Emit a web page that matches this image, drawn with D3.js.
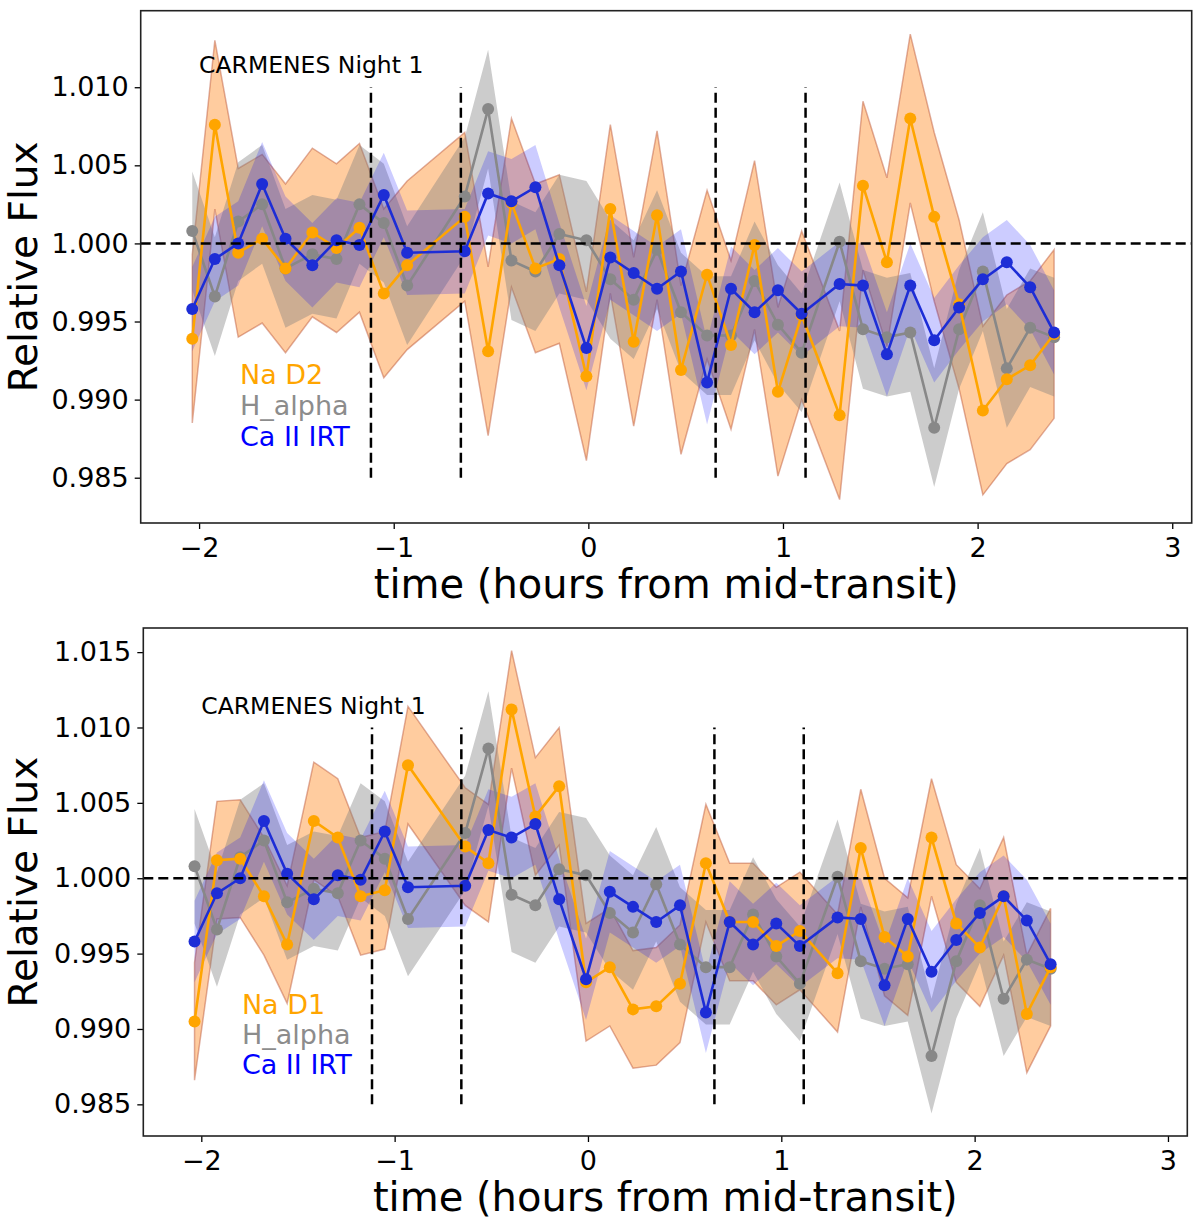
<!DOCTYPE html>
<html>
<head>
<meta charset="utf-8">
<style>
  body{
    margin:0;
    background:#fff;
    font-family:"DejaVu Sans", sans-serif;
  }
  .tick text{
    font-size:27px;
    font-family:"DejaVu Sans", sans-serif;
    fill:#000;
  }
  .tick line{
    stroke:#000;
    stroke-width:1.3;
  }
  .axis-title{
    font-size:40px;
    fill:#000;
  }
</style>
<script src="https://d3js.org/d3.v7.min.js"></script>
</head>
<body>
<div class="chart"></div>
<script>
// hours from mid-transit of every exposure
const times = [-2.035, -1.919, -1.799, -1.676, -1.556, -1.418, -1.294, -1.176, -1.051, -0.931,
  -0.635, -0.515, -0.395, -0.272, -0.149, -0.010, 0.113, 0.233, 0.353, 0.476,
  0.610, 0.733, 0.854, 0.974, 1.096, 1.291, 1.411, 1.534, 1.654, 1.777,
  1.905, 2.027, 2.150, 2.270, 2.393];

const naD2 = [0.9939, 1.0076, 0.9994, 1.0003, 0.9984, 1.0007, 0.9997, 1.0010, 0.9968, 0.9986,
  1.0017, 0.9931, 1.0026, 0.9984, 0.9990, 0.9915, 1.0022, 0.9937, 1.0018, 0.9919,
  0.9980, 0.9935, 0.9999, 0.9905, 0.9954, 0.9890, 1.0037, 0.9988, 1.0080, 1.0017,
  0.9961, 0.9893, 0.9913, 0.9922, 0.9942];

const naD1 = [0.9905, 1.0012, 1.0013, 0.9988, 0.9956, 1.0038, 1.0027, 0.9988, 0.9992, 1.0075,
  1.0021, 1.0010, 1.0112, 1.0041, 1.0061, 0.9931, 0.9941, 0.9913, 0.9915, 0.9930,
  1.0010, 0.9971, 0.9971, 0.9955, 0.9965, 0.9937, 1.0020, 0.9961, 0.9948, 1.0027,
  0.9970, 0.9954, 0.9988, 0.9910, 0.9941];

const hAlpha = [1.0008, 0.9966, 1.0014, 1.0025, 0.9984, 0.9993, 0.9990, 1.0025, 1.0013, 0.9973,
  1.0030, 1.0086, 0.9989, 0.9982, 1.0006, 1.0002, 0.9977, 0.9964, 0.9996, 0.9956,
  0.9941, 0.9941, 0.9976, 0.9948, 0.9930, 1.0001, 0.9945, 0.9940, 0.9943, 0.9882,
  0.9945, 0.9982, 0.9920, 0.9946, 0.9940];

const caIRT = [0.9958, 0.9990, 1.0000, 1.0038, 1.0003, 0.9986, 1.0002, 0.9999, 1.0031, 0.9994,
  0.9995, 1.0032, 1.0027, 1.0036, 0.9986, 0.9933, 0.9991, 0.9981, 0.9971, 0.9982,
  0.9911, 0.9971, 0.9956, 0.9970, 0.9955, 0.9974, 0.9973, 0.9929, 0.9973, 0.9938,
  0.9959, 0.9977, 0.9988, 0.9972, 0.9943];

// half widths of the shaded bands
const naD2Err = 0.0054;
const naD1Err = 0.0039;
const hAlphaErr = 0.0038;
const caIRTErr = 0.0027;

// transit contact points (dashed verticals)
const contactTimes = [-1.117, -0.655, 0.654, 1.116];

const xTicks = [-2, -1, 0, 1, 2, 3];
const yTicksTop = [0.985, 0.990, 0.995, 1.000, 1.005, 1.010];
const yTicksBottom = [0.985, 0.990, 0.995, 1.000, 1.005, 1.010, 1.015];
const xDomain = [-2.30, 3.10];
const yDomainTop = [0.9821, 1.0149];
const yDomainBottom = [0.9829, 1.0166];

const width = 1200;
const height = 1230;
const font = '"DejaVu Sans", sans-serif';

const svg = d3.select('.chart')
  .append('svg')
  .attr('width', width)
  .attr('height', height)
  .style('font-family', font);

const panels = [
  {box:{left:140.7, top:10.7, right:1191.7, bottom:523}, na:naD2, naErr:naD2Err, naLabel:'Na D2',
    yDomain:yDomainTop, yTicks:yTicksTop},
  {box:{left:143.3, top:628, right:1187.3, bottom:1136}, na:naD1, naErr:naD1Err, naLabel:'Na D1',
    yDomain:yDomainBottom, yTicks:yTicksBottom}
];

const minus = d => d < 0 ? '\u2212' + Math.abs(d) : String(d);

panels.forEach((p, i) => {
  const b = p.box;
  const x = d3.scaleLinear().domain(xDomain).range([b.left, b.right]);
  const y = d3.scaleLinear().domain(p.yDomain).range([b.bottom, b.top]);

  const g = svg.append('g');

  g.append('clipPath')
    .attr('id', 'clip' + i)
    .append('rect')
    .attr('x', b.left).attr('y', b.top)
    .attr('width', b.right - b.left).attr('height', b.bottom - b.top);

  const plot = g.append('g').attr('clip-path', `url(#clip${i})`);

  const series = [
    {values:p.na, err:p.naErr, line:'#ffa500', fill:'rgba(255,127,14,0.4)', edge:'rgba(185,80,50,0.45)', label:p.naLabel, text:'#ffa500'},
    {values:hAlpha, err:hAlphaErr, line:'#888888', fill:'rgba(128,128,128,0.4)', edge:'none', label:'H_alpha', text:'#8c8c8c'},
    {values:caIRT, err:caIRTErr, line:'#1d2dd6', fill:'rgba(0,0,255,0.2)', edge:'none', label:'Ca II IRT', text:'#0000ff'}
  ];

  const area = d3.area()
    .x((d, j) => x(times[j]))
    .y0(d => y(d.v - d.e))
    .y1(d => y(d.v + d.e));

  const line = d3.line()
    .x((d, j) => x(times[j]))
    .y(d => y(d));

  // shaded bands
  series.forEach(s => {
    plot.append('path')
      .datum(s.values.map(v => ({v:v, e:s.err})))
      .attr('d', area)
      .attr('fill', s.fill)
      .attr('stroke', s.edge)
      .attr('stroke-width', 1.5);
  });

  // lines with markers: gray below, then orange, blue on top
  [series[1], series[0], series[2]].forEach(s => {
    plot.append('path')
      .datum(s.values)
      .attr('d', line)
      .attr('fill', 'none')
      .attr('stroke', s.line)
      .attr('stroke-width', 2.6);
    plot.selectAll(null)
      .data(s.values)
      .enter()
      .append('circle')
      .attr('cx', (d, j) => x(times[j]))
      .attr('cy', d => y(d))
      .attr('r', 6)
      .attr('fill', s.line);
  });

  // reference lines
  plot.append('line')
    .attr('x1', b.left).attr('x2', b.right)
    .attr('y1', y(1)).attr('y2', y(1))
    .attr('stroke', '#000').attr('stroke-width', 2.5)
    .attr('stroke-dasharray', '10,5');

  plot.selectAll(null)
    .data(contactTimes)
    .enter()
    .append('line')
    .attr('x1', d => x(d)).attr('x2', d => x(d))
    .attr('y1', y(0.985)).attr('y2', y(1.010))
    .attr('stroke', '#000').attr('stroke-width', 2.5)
    .attr('stroke-dasharray', '10,5');

  // annotations
  plot.append('text')
    .attr('x', x(-2.0)).attr('y', y(1.0109))
    .attr('font-size', '23.5px')
    .attr('fill', '#000')
    .text('CARMENES Night 1');

  const labelY = [0.9910, 0.9890, 0.9870];
  series.forEach((s, k) => {
    plot.append('text')
      .attr('x', x(-1.79)).attr('y', y(labelY[k]))
      .attr('font-size', '27px')
      .attr('fill', s.text)
      .text(s.label);
  });

  // axes
  g.append('g')
    .attr('transform', `translate(0,${b.bottom})`)
    .call(d3.axisBottom(x).tickValues(xTicks).tickFormat(minus).tickSize(6).tickPadding(9))
    .call(a => a.select('.domain').remove())
    .call(a => a.selectAll('.tick text').attr('dy', '0.71em'));

  g.append('g')
    .attr('transform', `translate(${b.left},0)`)
    .call(d3.axisLeft(y).tickValues(p.yTicks).tickFormat(d3.format('.3f')).tickSize(6).tickPadding(6))
    .call(a => a.select('.domain').remove());

  g.append('rect')
    .attr('x', b.left).attr('y', b.top)
    .attr('width', b.right - b.left).attr('height', b.bottom - b.top)
    .attr('fill', 'none')
    .attr('stroke', '#222')
    .attr('stroke-width', 1.6);

  g.append('text')
    .attr('class', 'axis-title')
    .attr('x', (b.left + b.right) / 2)
    .attr('y', b.bottom + 75)
    .attr('text-anchor', 'middle')
    .text('time (hours from mid-transit)');

  g.append('text')
    .attr('class', 'axis-title')
    .attr('transform', `translate(37,${(b.top + b.bottom) / 2}) rotate(-90)`)
    .attr('text-anchor', 'middle')
    .style('font-size', '39px')
    .text('Relative Flux');
});
</script>
</body>
</html>
